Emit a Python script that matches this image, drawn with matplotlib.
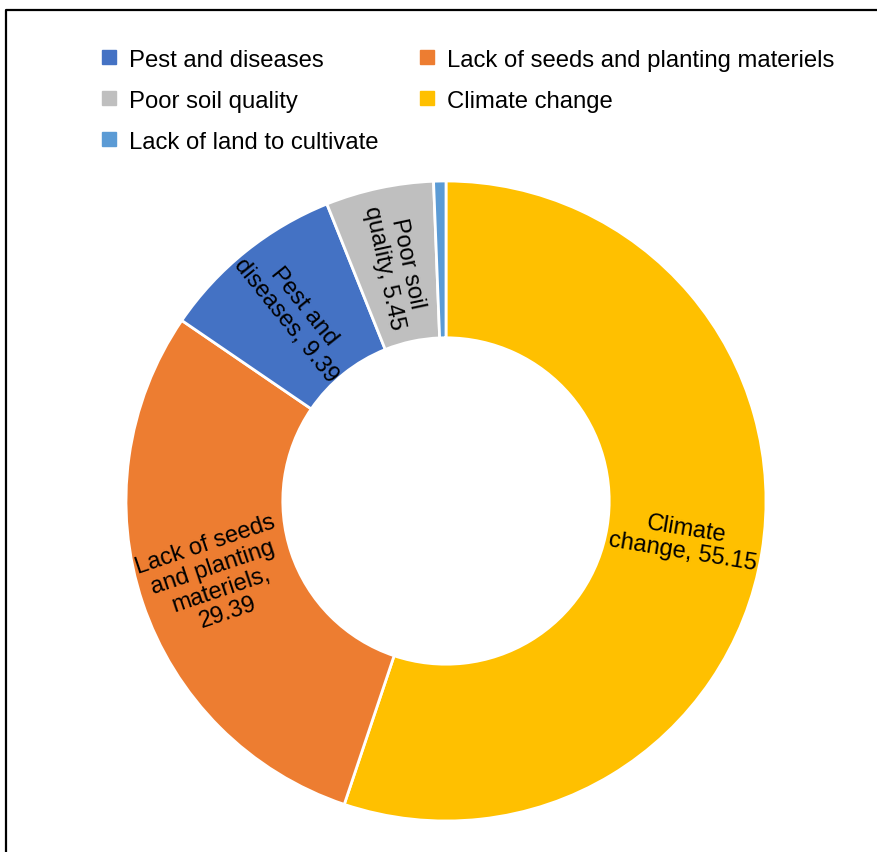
import numpy as np
import matplotlib
matplotlib.use("Agg")
import matplotlib.pyplot as plt
from matplotlib.lines import Line2D

plt.rcParams['font.family'] = ['Liberation Sans', 'DejaVu Sans']

# Slices in drawing order (clockwise from 12 o'clock)
categories = ["Climate change", "Lack of seeds and planting materiels",
              "Pest and diseases", "Poor soil quality", "Lack of land to cultivate"]
values = [55.15, 29.39, 9.39, 5.45, 0.62]
colors = ["#FFC000", "#ED7D31", "#4472C4", "#BFBFBF", "#5B9BD5"]
slice_labels = ["Climate\nchange, 55.15", "Lack of seeds\nand planting\nmateriels,\n29.39",
                "Pest and\ndiseases, 9.39", "Poor soil\nquality, 5.45", None]
legend_order = ["Pest and diseases", "Lack of seeds and planting materiels",
                "Poor soil quality", "Climate change", "Lack of land to cultivate"]

W, H = 877, 853
fig = plt.figure(figsize=(W / 100, H / 100), dpi=100)

cx, cy, R = 446, 502, 320
ax = fig.add_axes([(cx - R) / W, (H - cy - R) / H, 2 * R / W, 2 * R / H])
wedges, _ = ax.pie(values, colors=colors, startangle=90, counterclock=False,
                   radius=1.0, wedgeprops=dict(width=0.49, edgecolor="white", linewidth=2.0))
ax.set_xlim(-1, 1)
ax.set_ylim(-1, 1)
ax.set_aspect("equal")
ax.axis("off")

# Data labels placed mid-ring, rotated along the slice direction
for w, lab in zip(wedges, slice_labels):
    if lab is None:
        continue
    th = np.deg2rad((w.theta1 + w.theta2) / 2)
    r = 0.755
    x, y = r * np.cos(th), r * np.sin(th)
    rot = np.rad2deg(th)
    if x < 0:
        rot += 180
    ax.text(x, y, lab, rotation=rot, rotation_mode="anchor", ha="center", va="center",
            multialignment="center", fontsize=17, linespacing=1.1, color="black")

# Legend laid out row by row: two columns
col_major = [legend_order[i] for i in (0, 2, 4, 1, 3)]
handles = []
for name in col_major:
    c = colors[categories.index(name)]
    handles.append(Line2D([], [], marker="s", linestyle="", markersize=10.5, color=c, label=name))
fig.legend(handles=handles, loc="upper left", bbox_to_anchor=(101 / W, 1 - 49.5 / H),
           ncol=2, frameon=False, fontsize=17.2, handlelength=0.7, handletextpad=0.46,
           columnspacing=1.7, labelspacing=0.8, borderaxespad=0, borderpad=0)

# Chart area border (top and left edges)
fig.add_artist(Line2D([5.5 / W, 5.5 / W, 1.0], [0.0, 1 - 11 / H, 1 - 11 / H],
                      transform=fig.transFigure, color="black", linewidth=1.6))

fig.savefig("out.png", dpi=100, facecolor="white")
